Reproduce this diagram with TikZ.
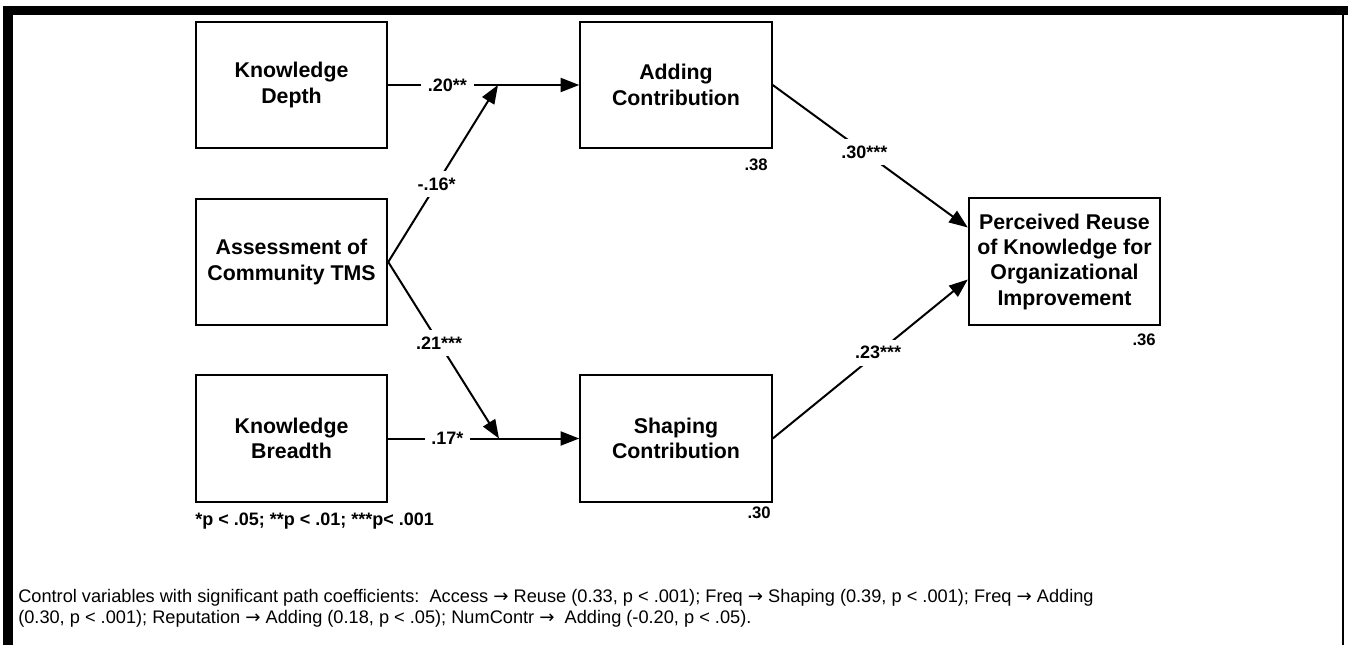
\documentclass[tikz,border=0pt]{standalone}
\usepackage{fontspec}
\setmainfont{Liberation Sans}
\newfontfamily\arrowfont{DejaVu Sans}
\newcommand{\ctrlto}{{\arrowfont →}}
\usetikzlibrary{arrows.meta,calc}

\begin{document}
\begin{tikzpicture}[x=0.75pt,y=0.75pt,yscale=-1,xscale=1,
  box/.style={draw, line width=1.6pt, minimum width=143.5pt, minimum height=95pt, inner sep=0pt, align=center, font=\bfseries\fontsize{16}{19}\selectfont},
  arrowline/.style={line width=1.5pt, -{Triangle[length=14pt,width=10.5pt]}},
  coef/.style={fill=white, inner sep=5pt, font=\bfseries\fontsize{13.5}{15}\selectfont},
  rsq/.style={inner sep=0pt, anchor=east, font=\bfseries\fontsize{12.5}{15}\selectfont}]
\useasboundingbox (0,0) rectangle (1348,645);

%Frame
\fill (3,6) rectangle (13,645);
\fill (3,6) rectangle (1348,15);
\draw [line width=1.5pt] (1343,14) -- (1343,645);

%Shape: Rectangle
\node (depth) [box] at (291.5,85) {Knowledge\\Depth};
%Shape: Rectangle
\node (assess) [box] at (291.5,262) {Assessment of\\Community TMS};
%Shape: Rectangle
\node (breadth) [box] at (291.5,438.5) {Knowledge\\Breadth};
%Shape: Rectangle
\node (adding) [box] at (676,85) {Adding\\Contribution};
%Shape: Rectangle
\node (shaping) [box] at (676,438.5) {Shaping\\Contribution};
%Shape: Rectangle
\node (reuse) [box] at (1064.5,261.5) {Perceived Reuse\\of Knowledge for\\Organizational\\Improvement};

\coordinate (jA) at (498,85);
\coordinate (jS) at (499,438.5);

%Straight Lines
\draw [arrowline] (depth.east) -- node [coef, pos=0.31] {.20**} (adding.west);
\draw [arrowline] (breadth.east) -- node [coef, pos=0.31] {.17*} (shaping.west);
\draw [arrowline] (assess.east) -- node [coef, pos=0.44] {-.16*} (jA);
\draw [arrowline] (assess.east) -- node [coef, pos=0.46] {.21***} (jS);
\draw [arrowline] (adding.east) -- node [coef, pos=0.47] {.30***} ($(reuse.west)+(0,-34)$);
\draw [arrowline] (shaping.east) -- node [coef, pos=0.54] {.23***} ($(reuse.west)+(0,18)$);

% Text Node
\node (r2add) [rsq] at (768,165) {.38};
\node (r2shape) [rsq] at (771,513) {.30};
\node (r2reuse) [rsq] at (1156,340) {.36};
% Text Node
\node (sig) [anchor=west, inner sep=0pt, font=\bfseries\fontsize{13.5}{15}\selectfont] at (195,521) {*p < .05; **p < .01; ***p< .001};
% Text Node
\node (ctrl) [anchor=north west, inner sep=0pt, align=left, font=\fontsize{13.65}{15.5}\selectfont] at (18,589) {Control variables with significant path coefficients:\ \ Access \ctrlto{} Reuse (0.33, p < .001); Freq \ctrlto{} Shaping (0.39, p < .001); Freq \ctrlto{} Adding\\(0.30, p < .001); Reputation \ctrlto{} Adding (0.18, p < .05); NumContr \ctrlto{}\ \ Adding (-0.20, p < .05).};

\end{tikzpicture}
\end{document}
